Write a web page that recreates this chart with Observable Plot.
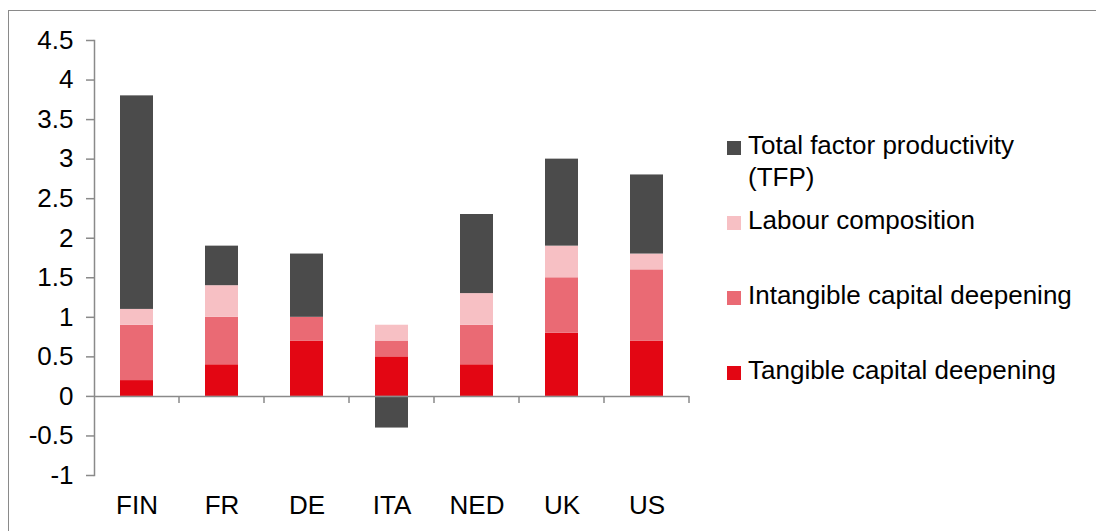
<!DOCTYPE html>
<html>
<head>
<meta charset="utf-8">
<script src="https://cdn.jsdelivr.net/npm/d3@7"></script>
<script src="https://cdn.jsdelivr.net/npm/@observablehq/plot@0.6"></script>
<style>
  html, body { margin: 0; padding: 0; background: #fff; }
  #wrap { position: relative; width: 1096px; height: 531px; overflow: hidden; font-family: "Liberation Sans", Arial, sans-serif; }
  #border { position: absolute; left: 8px; top: 10px; width: 1200px; height: 600px; border-top: 1px solid #8a8a8a; border-left: 1px solid #8a8a8a; }
  #chart { position: absolute; left: 0; top: 0; }
  .leg { position: absolute; left: 727px; font-size: 26px; color: #000; line-height: 32px; }
  .leg .sw { position: absolute; left: 0; width: 14px; height: 14px; }
  .leg .lab { position: absolute; left: 21px; white-space: nowrap; }
</style>
</head>
<body>
<div id="wrap">
  <div id="border"></div>
  <div id="chart"></div>
  <div id="legend"></div>
</div>
<script>
const countries = ["FIN", "FR", "DE", "ITA", "NED", "UK", "US"];
const tangible   = [0.2, 0.4, 0.7, 0.5, 0.4, 0.8, 0.7];
const intangible = [0.7, 0.6, 0.3, 0.2, 0.5, 0.7, 0.9];
const labour     = [0.2, 0.4, 0.0, 0.2, 0.4, 0.4, 0.2];
const tfp        = [2.7, 0.5, 0.8, -0.4, 1.0, 1.1, 1.0];
const seriesNames = ["Tangible capital deepening", "Intangible capital deepening", "Labour composition", "Total factor productivity (TFP)"];
const seriesColors = ["#e30613", "#ea6a74", "#f7c0c4", "#4b4b4b"];
const yTicks = [-1, -0.5, 0, 0.5, 1, 1.5, 2, 2.5, 3, 3.5, 4, 4.5];

const seriesValues = [tangible, intangible, labour, tfp];
const data = [];
seriesNames.forEach((s, si) => {
  countries.forEach((c, ci) => data.push({country: c, series: s, value: seriesValues[si][ci]}));
});

const gray = "#8a8a8a";
const plot = Plot.plot({
  width: 1096,
  height: 531,
  marginLeft: 94,
  marginRight: 407,
  marginTop: 40,
  marginBottom: 56,
  style: {fontFamily: "'Liberation Sans', Arial, sans-serif", fontSize: "26px", color: "#000", background: "transparent"},
  x: {domain: countries, paddingInner: 0.608, paddingOuter: 0.304, align: 0.5},
  y: {domain: [-1, 4.5]},
  color: {domain: seriesNames, range: seriesColors},
  marks: [
    Plot.barY(data, Plot.stackY({x: "country", y: "value", fill: "series", order: seriesNames})),
    Plot.ruleY([0], {stroke: gray, strokeWidth: 1.5}),
    Plot.frame({anchor: "left", stroke: gray, strokeWidth: 1.5}),
    Plot.axisY({ticks: yTicks, tickFormat: d => String(d), tickSize: 8, tickPadding: 13, stroke: gray, fill: "#000", fontSize: 26, strokeWidth: 1.5, label: null}),
    Plot.axisX({tickSize: 0, tickPadding: 20, fill: "#000", fontSize: 26, label: null})
  ]
});
document.getElementById("chart").appendChild(plot);

// category boundary tick marks on the zero line
const xs = plot.scale("x");
const ys = plot.scale("y");
const svg = d3.select(plot);
const y0 = ys.apply(0);
countries.forEach(c => {
  const xb = xs.apply(c) + xs.bandwidth + (xs.step - xs.bandwidth) / 2;
  svg.append("line").attr("x1", xb).attr("x2", xb).attr("y1", y0).attr("y2", y0 + 7)
    .attr("stroke", gray).attr("stroke-width", 1.5);
});

// legend
const legendOrder = [3, 2, 1, 0];
const legendTops = [140, 215, 290, 365];
const legendLabels = ["Total factor productivity<br>(TFP)", "Labour composition", "Intangible capital deepening", "Tangible capital deepening"];
const legend = document.getElementById("legend");
legendOrder.forEach((si, i) => {
  const item = document.createElement("div");
  item.className = "leg";
  item.style.top = legendTops[i] + "px";
  item.innerHTML = `<div class="sw" style="background:${seriesColors[si]};top:1px"></div><div class="lab" style="top:-11px">${legendLabels[i]}</div>`;
  legend.appendChild(item);
});
</script>
</body>
</html>
